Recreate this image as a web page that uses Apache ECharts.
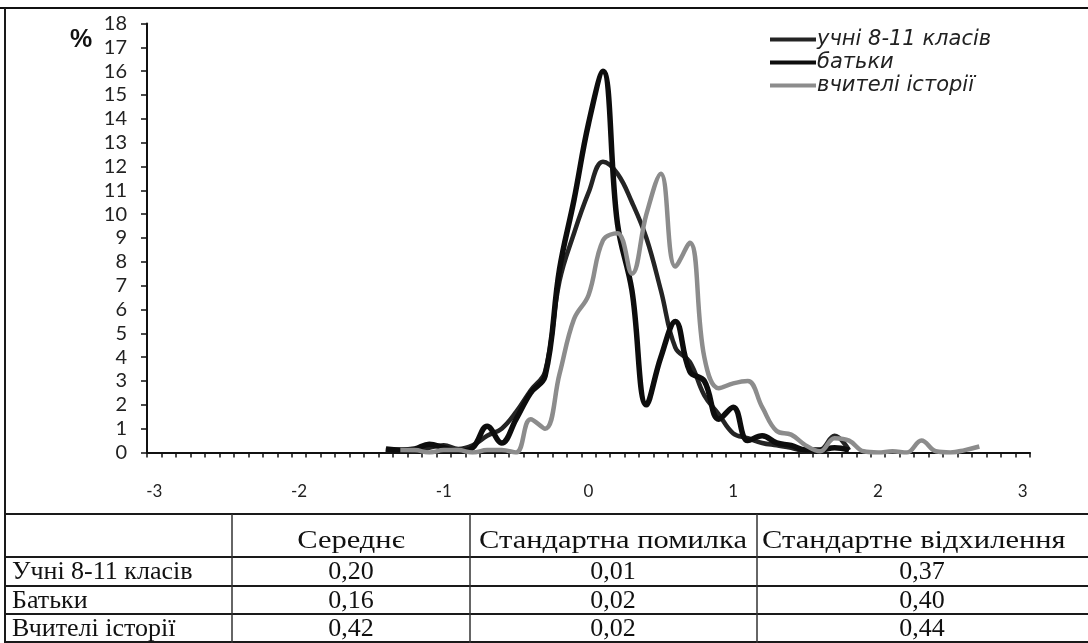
<!DOCTYPE html>
<html>
<head>
<meta charset="utf-8">
<script src="https://cdn.jsdelivr.net/npm/echarts@6/dist/echarts.min.js"></script>
<style>html,body{margin:0;padding:0;background:#fff;}#c{width:1088px;height:643px;}</style>
</head>
<body>
<div id="c"></div>
<script>
// x categories (-3 .. 3 step 0.1)
const categories = ['-3','-2.9','-2.8','-2.7','-2.6','-2.5','-2.4','-2.3','-2.2','-2.1',
  '-2','-1.9','-1.8','-1.7','-1.6','-1.5','-1.4','-1.3','-1.2','-1.1',
  '-1','-0.9','-0.8','-0.7','-0.6','-0.5','-0.4','-0.3','-0.2','-0.1',
  '0','0.1','0.2','0.3','0.4','0.5','0.6','0.7','0.8','0.9',
  '1','1.1','1.2','1.3','1.4','1.5','1.6','1.7','1.8','1.9',
  '2','2.1','2.2','2.3','2.4','2.5','2.6','2.7','2.8','2.9','3'];
const xTickLabels = ['-3','-2','-1','0','1','2','3'];
const seriesNames = ['учні 8-11 класів','батьки','вчителі історії'];
const N = null;
const students = [N,N,N,N,N,N,N,N,N,N, N,N,N,N,N,N,
  0.1,0.1,0.05,0.2, 0.3,0.15,0.3,0.7,1.0,1.7,2.6,3.4,7.2,9.2,
  10.9,12.2,11.7,10.5,9.0,6.8,4.4,3.8,2.4,1.6,
  0.8,0.6,0.4,0.3,0.2,0.05,0.1,0.7,0.1,N,
  N,N,N,N,N,N,N,N,N,N,N];
const parents = [N,N,N,N,N,N,N,N,N,N, N,N,N,N,N,N,
  0.15,0.1,0.15,0.35, 0.2,0.05,0.2,1.1,0.4,1.4,2.5,3.2,7.7,10.6,
  13.8,16.0,9.6,6.8,2.0,4.0,5.5,3.4,3.0,1.4,
  1.9,0.5,0.7,0.4,0.3,0.1,0.1,0.2,0.1,N,
  N,N,N,N,N,N,N,N,N,N,N];
const teachers = [N,N,N,N,N,N,N,N,N,N, N,N,N,N,N,N,N,
  0.1,0.1,0.0, 0.1,0.1,0.0,0.1,0.1,0.0,1.4,1.0,3.3,5.6,
  6.6,8.9,9.2,7.5,10.0,11.7,7.8,8.8,4.0,2.7,
  2.9,3.0,1.9,0.9,0.75,0.3,0.05,0.6,0.5,0.05,
  0.0,0.05,0.0,0.5,0.05,0.0,0.1,0.25,N,N,N];

// table
const tableHeader = ['', 'Середнє', 'Стандартна помилка', 'Стандартне відхилення'];
const tableRowNames = ['Учні 8-11 класів', 'Батьки', 'Вчителі історії'];
const tableMean = ['0,20', '0,16', '0,42'];
const tableSE = ['0,01', '0,02', '0,02'];
const tableSD = ['0,37', '0,40', '0,44'];

const colX = [5, 232, 470, 757, 1088];
const colCenter = [0, 351, 613, 922];
const rowY = [514, 557, 586, 614, 642];

const graphics = [];
const lineStyle = {stroke: '#1a1a1a', lineWidth: 2};
graphics.push({type:'line', shape:{x1:0,y1:8,x2:1088,y2:8}, style:{stroke:'#111',lineWidth:2}});
graphics.push({type:'line', shape:{x1:5,y1:8,x2:5,y2:643}, style:lineStyle});
rowY.forEach(y => graphics.push({type:'line', shape:{x1:5,y1:y,x2:1088,y2:y}, style:lineStyle}));
colX.slice(1,4).forEach(x => graphics.push({type:'line', shape:{x1:x,y1:rowY[0],x2:x,y2:643}, style:{stroke:'#333',lineWidth:1.5}}));
const tfont = {fontFamily:'Liberation Serif', fontSize:26, fill:'#111'};
tableHeader.forEach((h,i) => {
  if (!h) return;
  const last = i === 3;
  graphics.push({type:'text', x: last ? 762 : colCenter[i], y:(rowY[0]+rowY[1])/2+6, scaleX:1.22,
    style:Object.assign({}, tfont, {text:h, align: last ? 'left' : 'center', verticalAlign:'middle', fontSize:25})});
});
const cols = [tableMean, tableSE, tableSD];
tableRowNames.forEach((r,j) => {
  const yc = (rowY[j+1]+rowY[j+2])/2 + 1;
  graphics.push({type:'text', x:colX[0]+7, y:yc, style:Object.assign({}, tfont, {text:r, align:'left', verticalAlign:'middle'})});
  cols.forEach((c,k) => {
    graphics.push({type:'text', x:colCenter[k+1], y:yc, style:Object.assign({}, tfont, {text:c[j], align:'center', verticalAlign:'middle'})});
  });
});
graphics.push({type:'text', x:70, y:40, style:{text:'%', fontFamily:'Liberation Sans', fontWeight:'bold', fontSize:25, fill:'#111', verticalAlign:'middle'}});

const chart = echarts.init(document.getElementById('c'), null, {renderer:'canvas'});
const colors = ['#242424', '#0d0d0d', '#8c8c8c'];
const widths = [4.5, 5.5, 4.5];
const datas = [students, parents, teachers];
chart.setOption({
  animation: false,
  backgroundColor: '#fff',
  grid: {left:147, right:58, top:23.5, bottom:190.5, containLabel:false},
  legend: {
    data: seriesNames.map((n,i) => ({name:n, itemStyle:{color:colors[i]}})),
    orient:'vertical', left:765, top:24, itemGap:2,
    itemWidth:46, itemHeight:22, icon:'path://M0,9 L46,9 L46,13 L0,13 Z',
    textStyle:{fontFamily:'DejaVu Sans', fontStyle:'italic', fontSize:21, color:'#222', padding:[0,0,0,-4]}
  },
  xAxis: {
    type:'category', data:categories, boundaryGap:true,
    axisLine:{lineStyle:{color:'#111', width:2}},
    axisTick:{show:true, interval:0, length:5, lineStyle:{color:'#111', width:1.5}},
    axisLabel:{interval:9, margin:31, fontFamily:'Lato', fontSize:17, color:'#222',
      formatter: (v) => xTickLabels.indexOf(v) >= 0 ? v : ''},
    splitLine:{show:false}
  },
  yAxis: {
    type:'value', min:0, max:18, interval:1,
    axisLine:{show:true, lineStyle:{color:'#111', width:2}},
    axisTick:{show:true, length:6, lineStyle:{color:'#111', width:1.5}},
    axisLabel:{margin:20, fontFamily:'Lato', fontSize:20, color:'#222'},
    splitLine:{show:false}
  },
  series: datas.map((d,i) => ({
    name: seriesNames[i], type:'line', data:d, smooth:0.4, showSymbol:false,
    connectNulls:false,
    lineStyle:{color:colors[i], width:widths[i]}, itemStyle:{color:colors[i]}
  })),
  graphic: graphics
});
</script>
</body>
</html>
